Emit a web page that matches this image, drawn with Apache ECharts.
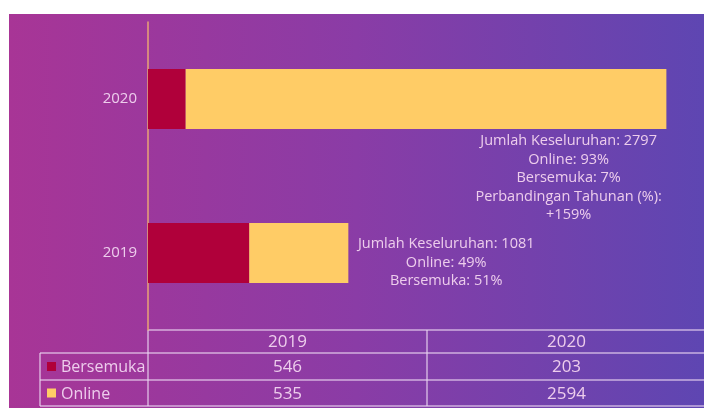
<!DOCTYPE html>
<html>
<head>
<meta charset="utf-8">
<script src="https://cdn.jsdelivr.net/npm/echarts@6/dist/echarts.min.js"></script>
<style>
  html, body { margin: 0; padding: 0; background: #fff; }
  #main { width: 704px; height: 408px; }
</style>
</head>
<body>
<div id="main"></div>
<script>
// data
var years = ['2019', '2020'];
var bersemuka = [546, 203];
var online = [535, 2594];
var notes = [
  ['Jumlah Keseluruhan: 1081', 'Online: 49%', 'Bersemuka: 51%'],
  ['Jumlah Keseluruhan: 2797', 'Online: 93%', 'Bersemuka: 7%', 'Perbandingan Tahunan (%):', '+159%']
];

var txtColor = '#EDCDEC';
var lineColor = 'rgba(235,215,240,0.75)';
var font = 'Open Sans';

var chart = echarts.init(document.getElementById('main'));

// table built from the arrays
var tbl = [];
var colX = [148, 427, 706];
var rowY = [330, 353, 380, 406];
// horizontal lines
tbl.push({ type: 'line', shape: { x1: 148, y1: rowY[0], x2: 704, y2: rowY[0] }, style: { stroke: lineColor, lineWidth: 1.5 } });
for (var r = 1; r < rowY.length; r++) {
  tbl.push({ type: 'line', shape: { x1: 40, y1: rowY[r], x2: 704, y2: rowY[r] }, style: { stroke: lineColor, lineWidth: 1.5 } });
}
// vertical lines
tbl.push({ type: 'line', shape: { x1: 40, y1: rowY[1], x2: 40, y2: rowY[3] }, style: { stroke: lineColor, lineWidth: 1.5 } });
tbl.push({ type: 'line', shape: { x1: 148, y1: rowY[0], x2: 148, y2: rowY[3] }, style: { stroke: lineColor, lineWidth: 1.5 } });
tbl.push({ type: 'line', shape: { x1: 427, y1: rowY[0], x2: 427, y2: rowY[3] }, style: { stroke: lineColor, lineWidth: 1.5 } });

var rows = [years, bersemuka, online];
for (var i = 0; i < 3; i++) {
  for (var j = 0; j < 2; j++) {
    tbl.push({
      type: 'text',
      x: (colX[j] + colX[j + 1]) / 2,
      y: (rowY[i] + rowY[i + 1]) / 2 + 1,
      style: { text: String(rows[i][j]), fill: txtColor, font: '17px "' + font + '"', align: 'center', verticalAlign: 'middle' }
    });
  }
}
// legend cells
var legendNames = ['Bersemuka', 'Online'];
var legendColors = ['#B0003A', '#FFCC66'];
for (var k = 0; k < 2; k++) {
  var cy = (rowY[k + 1] + rowY[k + 2]) / 2;
  tbl.push({ type: 'rect', shape: { x: 47, y: cy - 4.5, width: 9, height: 9 }, style: { fill: legendColors[k] } });
  tbl.push({ type: 'text', x: 61, y: cy + 1, style: { text: legendNames[k], fill: txtColor, font: '16px "' + font + '"', verticalAlign: 'middle' } });
}

var option = {
  animation: false,
  graphic: [
    {
      type: 'rect', z: -10, silent: true,
      shape: { x: 9, y: 14, width: 695, height: 394 },
      style: {
        fill: new echarts.graphic.LinearGradient(0, 0, 1, 0, [
          { offset: 0, color: '#A83596' },
          { offset: 0.5, color: '#8A3CA6' },
          { offset: 1, color: '#5E46B2' }
        ])
      }
    },
    { type: 'group', children: tbl }
  ],
  grid: { left: 148, top: 22, width: 558, height: 308 },
  xAxis: {
    type: 'value', min: 0, max: 3000,
    show: false
  },
  yAxis: {
    type: 'category',
    data: years,
    axisLine: { show: true, lineStyle: { color: '#E8A474', width: 1.5 } },
    axisTick: { show: false },
    axisLabel: { color: txtColor, fontSize: 15, fontFamily: font, margin: 11 }
  },
  series: [
    {
      name: 'Bersemuka', type: 'bar', stack: 'all', barWidth: 60,
      itemStyle: { color: '#B0003A' },
      data: bersemuka
    },
    {
      name: 'Online', type: 'bar', stack: 'all', barWidth: 60,
      itemStyle: { color: '#FFCC66' },
      data: online.map(function (v, i) {
        var lbl = i === 0
          ? { position: [197, 12] }
          : { position: [383, 63] };
        return {
          value: v,
          label: Object.assign({
            show: true,
            formatter: notes[i].join('\n'),
            color: txtColor,
            fontSize: 14.5,
            fontFamily: font,
            lineHeight: 18.5,
            align: 'center',
            verticalAlign: 'top'
          }, lbl)
        };
      })
    }
  ]
};
chart.setOption(option);
</script>
</body>
</html>
